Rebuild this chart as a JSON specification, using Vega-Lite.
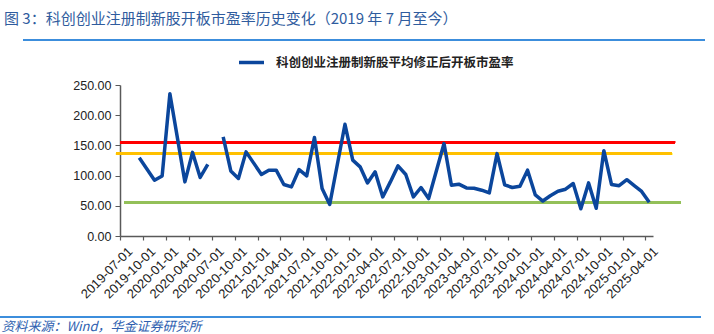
{
  "$schema": "https://vega.github.io/schema/vega-lite/v6.json",
  "width": 533,
  "height": 151,
  "autosize": {"type": "none"},
  "padding": {"left": 120, "top": 85, "right": 61, "bottom": 98},
  "background": "white",
  "title": {
    "text": "图 3：科创创业注册制新股开板市盈率历史变化（2019 年 7 月至今）",
    "anchor": "start",
    "frame": "group",
    "dx": -116,
    "offset": 12,
    "font": "Noto Sans CJK SC",
    "fontSize": 15,
    "fontWeight": "normal",
    "color": "#2F5C9E"
  },
  "config": {
    "view": {"stroke": null},
    "font": "Liberation Sans"
  },
  "data": {
    "values": [
      {"month": "2019-09-01", "pe": 129.4},
      {"month": "2019-11-01", "pe": 92.4},
      {"month": "2019-12-01", "pe": 99.5},
      {"month": "2020-01-01", "pe": 235.5},
      {"month": "2020-03-01", "pe": 89.6},
      {"month": "2020-04-01", "pe": 138.4},
      {"month": "2020-05-01", "pe": 96.9},
      {"month": "2020-06-01", "pe": 118.4},
      {"month": "2020-07-01", "pe": null},
      {"month": "2020-08-01", "pe": 164.2},
      {"month": "2020-09-01", "pe": 107.8},
      {"month": "2020-10-01", "pe": 95.2},
      {"month": "2020-11-01", "pe": 139.3},
      {"month": "2021-01-01", "pe": 101.8},
      {"month": "2021-02-01", "pe": 109},
      {"month": "2021-03-01", "pe": 109},
      {"month": "2021-04-01", "pe": 85.3},
      {"month": "2021-05-01", "pe": 81.3},
      {"month": "2021-06-01", "pe": 110},
      {"month": "2021-07-01", "pe": 99.5},
      {"month": "2021-08-01", "pe": 163.2},
      {"month": "2021-09-01", "pe": 78.6},
      {"month": "2021-10-01", "pe": 52.1},
      {"month": "2021-12-01", "pe": 185},
      {"month": "2022-01-01", "pe": 125.6},
      {"month": "2022-02-01", "pe": 114.5},
      {"month": "2022-03-01", "pe": 87.9},
      {"month": "2022-04-01", "pe": 106.2},
      {"month": "2022-05-01", "pe": 64.7},
      {"month": "2022-06-01", "pe": 89.6},
      {"month": "2022-07-01", "pe": 116.1},
      {"month": "2022-08-01", "pe": 101.9},
      {"month": "2022-09-01", "pe": 64.7},
      {"month": "2022-10-01", "pe": 80.3},
      {"month": "2022-11-01", "pe": 62},
      {"month": "2023-01-01", "pe": 153},
      {"month": "2023-02-01", "pe": 84.1},
      {"month": "2023-03-01", "pe": 85.8},
      {"month": "2023-04-01", "pe": 79.6},
      {"month": "2023-05-01", "pe": 79.1},
      {"month": "2023-06-01", "pe": 75.8},
      {"month": "2023-07-01", "pe": 71.3},
      {"month": "2023-08-01", "pe": 136.4},
      {"month": "2023-09-01", "pe": 84.6},
      {"month": "2023-10-01", "pe": 80.3},
      {"month": "2023-11-01", "pe": 82.4},
      {"month": "2023-12-01", "pe": 109},
      {"month": "2024-01-01", "pe": 68},
      {"month": "2024-02-01", "pe": 57.9},
      {"month": "2024-03-01", "pe": 66.7},
      {"month": "2024-04-01", "pe": 74.2},
      {"month": "2024-05-01", "pe": 77.5},
      {"month": "2024-06-01", "pe": 86.9},
      {"month": "2024-07-01", "pe": 45},
      {"month": "2024-08-01", "pe": 87.9},
      {"month": "2024-09-01", "pe": 46},
      {"month": "2024-10-01", "pe": 141.3},
      {"month": "2024-11-01", "pe": 85.3},
      {"month": "2024-12-01", "pe": 83.3},
      {"month": "2025-01-01", "pe": 93.2},
      {"month": "2025-02-01", "pe": 83.6},
      {"month": "2025-03-01", "pe": 73.8},
      {"month": "2025-04-01", "pe": 55.9}
    ]
  },
  "layer": [
    {
      "mark": {"type": "rule", "color": "#3C8DDC", "strokeWidth": 1.5, "clip": false},
      "encoding": {
        "y": {"datum": 325, "type": "quantitative"},
        "x": {"datum": {"year": 2018, "month": 6, "date": 10, "utc": true}, "type": "temporal"},
        "x2": {"datum": {"year": 2025, "month": 11, "date": 22, "utc": true}}
      }
    },
    {
      "mark": {"type": "rule", "color": "#3C8DDC", "strokeWidth": 1.5, "clip": false},
      "encoding": {
        "y": {"datum": -134.4, "type": "quantitative"},
        "x": {"datum": {"year": 2018, "month": 3, "date": 8, "utc": true}, "type": "temporal"},
        "x2": {"datum": {"year": 2025, "month": 11, "date": 7, "utc": true}}
      }
    },
    {
      "mark": {"type": "rule", "color": "#FF0000", "strokeWidth": 2.5, "clip": false},
      "encoding": {
        "y": {"datum": 155.4, "type": "quantitative"},
        "x": {"datum": {"year": 2019, "month": 7, "date": 1, "utc": true}, "type": "temporal"},
        "x2": {"datum": {"year": 2025, "month": 7, "date": 28, "utc": true}}
      }
    },
    {
      "mark": {"type": "rule", "color": "#FFC000", "strokeWidth": 2.5, "clip": false},
      "encoding": {
        "y": {"datum": 136, "type": "quantitative"},
        "x": {"datum": {"year": 2019, "month": 6, "date": 15, "utc": true}, "type": "temporal"},
        "x2": {"datum": {"year": 2025, "month": 7, "date": 16, "utc": true}}
      }
    },
    {
      "mark": {"type": "rule", "color": "#92C05A", "strokeWidth": 1.5, "clip": false},
      "encoding": {
        "y": {"datum": 55.4, "type": "quantitative"},
        "x": {"datum": {"year": 2019, "month": 7, "date": 17, "utc": true}, "type": "temporal"},
        "x2": {"datum": {"year": 2025, "month": 8, "date": 19, "utc": true}}
      }
    },
    {
      "mark": {"type": "line", "strokeWidth": 3.5, "strokeJoin": "round", "clip": false},
      "encoding": {
        "x": {
          "field": "month",
          "timeUnit": "utcyearmonth",
          "type": "temporal",
          "bandPosition": 0.5,
          "scale": {
            "type": "utc",
            "domain": [
              {"year": 2019, "month": 7, "date": 1, "utc": true},
              {"year": 2025, "month": 5, "date": 1, "utc": true}
            ]
          },
          "axis": {
            "values": [
              {"year": 2019, "month": 7, "date": 1, "utc": true},
              {"year": 2019, "month": 10, "date": 1, "utc": true},
              {"year": 2020, "month": 1, "date": 1, "utc": true},
              {"year": 2020, "month": 4, "date": 1, "utc": true},
              {"year": 2020, "month": 7, "date": 1, "utc": true},
              {"year": 2020, "month": 10, "date": 1, "utc": true},
              {"year": 2021, "month": 1, "date": 1, "utc": true},
              {"year": 2021, "month": 4, "date": 1, "utc": true},
              {"year": 2021, "month": 7, "date": 1, "utc": true},
              {"year": 2021, "month": 10, "date": 1, "utc": true},
              {"year": 2022, "month": 1, "date": 1, "utc": true},
              {"year": 2022, "month": 4, "date": 1, "utc": true},
              {"year": 2022, "month": 7, "date": 1, "utc": true},
              {"year": 2022, "month": 10, "date": 1, "utc": true},
              {"year": 2023, "month": 1, "date": 1, "utc": true},
              {"year": 2023, "month": 4, "date": 1, "utc": true},
              {"year": 2023, "month": 7, "date": 1, "utc": true},
              {"year": 2023, "month": 10, "date": 1, "utc": true},
              {"year": 2024, "month": 1, "date": 1, "utc": true},
              {"year": 2024, "month": 4, "date": 1, "utc": true},
              {"year": 2024, "month": 7, "date": 1, "utc": true},
              {"year": 2024, "month": 10, "date": 1, "utc": true},
              {"year": 2025, "month": 1, "date": 1, "utc": true},
              {"year": 2025, "month": 4, "date": 1, "utc": true}
            ],
            "tickCount": 100,
            "labelExpr": "utcFormat(datum.value, '%Y-%m-%d')",
            "labelAngle": -45,
            "labelAlign": "right",
            "labelBaseline": "middle",
            "labelOffset": 10,
            "labelPadding": 9,
            "labelFont": "Liberation Sans",
            "labelFontSize": 13,
            "labelColor": "#222222",
            "labelOverlap": false,
            "labelFlush": false,
            "labelBound": false,
            "tickSize": 4,
            "tickColor": "#595959",
            "tickWidth": 1.2,
            "domainColor": "#595959",
            "domainWidth": 1.5,
            "grid": false,
            "title": "资料来源：Wind，华金证券研究所",
            "titleFont": "Noto Sans CJK SC",
            "titleFontSize": 13,
            "titleFontStyle": "italic",
            "titleFontWeight": "normal",
            "titleColor": "#2E5FB0",
            "titleAnchor": "start",
            "titleAlign": "left",
            "titleBaseline": "middle",
            "titleX": -119,
            "titleY": 90
          }
        },
        "y": {
          "field": "pe",
          "type": "quantitative",
          "scale": {"domain": [0, 250], "nice": false, "zero": true},
          "axis": {
            "values": [0, 50, 100, 150, 200, 250],
            "tickCount": 20,
            "labelOverlap": false,
            "format": ".2f",
            "labelFont": "Liberation Sans",
            "labelFontSize": 12.5,
            "labelColor": "#222222",
            "labelPadding": 4,
            "tickSize": 5,
            "tickColor": "#595959",
            "domainColor": "#595959",
            "domainWidth": 1.5,
            "grid": false,
            "title": null
          }
        },
        "color": {
          "datum": "科创创业注册制新股平均修正后开板市盈率",
          "type": "nominal",
          "scale": {"range": ["#0B469C"]},
          "legend": {
            "orient": "none",
            "legendX": 117,
            "legendY": -37,
            "title": null,
            "symbolType": "stroke",
            "symbolStrokeWidth": 3.5,
            "symbolSize": 625,
            "labelFont": "Noto Sans CJK SC",
            "labelFontSize": 12.5,
            "labelFontWeight": "bold",
            "labelColor": "#222222",
            "labelLimit": 400,
            "labelOffset": 10
          }
        }
      }
    }
  ]
}
